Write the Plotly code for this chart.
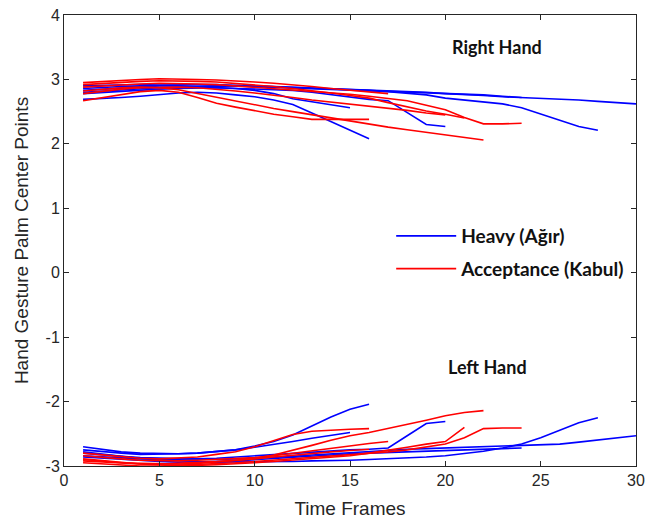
import plotly.graph_objects as go

# ---------------- data ----------------
# Right hand, "Heavy (Ağır)" (blue)
heavy_right = [
    [2.80, 2.82, 2.84, 2.86, 2.87, 2.88, 2.89, 2.90, 2.90, 2.90, 2.89, 2.88, 2.87, 2.86, 2.85,
     2.84, 2.83, 2.82, 2.80, 2.78, 2.77, 2.75, 2.73, 2.72, 2.71, 2.70, 2.68, 2.66, 2.64, 2.62],
    [2.86, 2.88, 2.89, 2.90, 2.91, 2.92, 2.92, 2.92, 2.91, 2.90, 2.89, 2.88, 2.87, 2.86, 2.85,
     2.83, 2.81, 2.79, 2.76, 2.71, 2.68, 2.65, 2.62, 2.56, 2.46, 2.37, 2.27, 2.21],
    [2.78, 2.80, 2.82, 2.84, 2.85, 2.86, 2.87, 2.87, 2.86, 2.85, 2.84, 2.83, 2.80, 2.76, 2.72,
     2.69, 2.67, 2.48, 2.30, 2.27],
    [2.69, 2.70, 2.72, 2.74, 2.77, 2.79, 2.80, 2.79, 2.76, 2.73, 2.68, 2.61, 2.48, 2.35, 2.21, 2.08],
    [2.83, 2.85, 2.87, 2.89, 2.90, 2.90, 2.89, 2.88, 2.86, 2.83, 2.78, 2.70, 2.65, 2.60, 2.56],
    [2.90, 2.91, 2.92, 2.93, 2.93, 2.93, 2.92, 2.91, 2.90, 2.89, 2.88, 2.87, 2.86, 2.85, 2.84,
     2.83, 2.82, 2.81, 2.80, 2.79, 2.77, 2.76, 2.74, 2.72],
]
# Right hand, "Acceptance (Kabul)" (red)
acceptance_right = [
    [2.95, 2.97, 2.99, 3.00, 3.01, 3.01, 3.00, 2.99, 2.98, 2.96, 2.94, 2.92, 2.89, 2.86, 2.83, 2.80, 2.78],
    [2.92, 2.94, 2.96, 2.97, 2.98, 2.98, 2.97, 2.96, 2.94, 2.92, 2.89, 2.86, 2.83, 2.79, 2.75,
     2.71, 2.64, 2.57, 2.51, 2.46, 2.40],
    [2.88, 2.90, 2.92, 2.93, 2.94, 2.94, 2.93, 2.92, 2.90, 2.88, 2.86, 2.84, 2.82, 2.80, 2.77,
     2.74, 2.71, 2.67, 2.60, 2.53, 2.41, 2.31, 2.31, 2.32],
    [2.82, 2.85, 2.87, 2.88, 2.87, 2.84, 2.78, 2.72, 2.66, 2.60, 2.55, 2.50, 2.45, 2.40, 2.35,
     2.30, 2.26, 2.22, 2.18, 2.13, 2.09, 2.06],
    [2.67, 2.72, 2.77, 2.81, 2.83, 2.80, 2.72, 2.63, 2.57, 2.51, 2.46, 2.42, 2.38, 2.38, 2.38, 2.38],
    [2.78, 2.82, 2.85, 2.87, 2.88, 2.88, 2.87, 2.85, 2.82, 2.79, 2.76, 2.72, 2.68, 2.65, 2.62,
     2.59, 2.56, 2.52, 2.48, 2.45],
]
# Left hand, "Heavy (Ağır)" (blue)
heavy_left = [
    [-2.70, -2.74, -2.78, -2.80, -2.81, -2.81, -2.80, -2.78, -2.75, -2.69, -2.62, -2.52, -2.38,
     -2.24, -2.12, -2.04],
    [-2.78, -2.82, -2.85, -2.88, -2.90, -2.92, -2.93, -2.94, -2.94, -2.94, -2.93, -2.93, -2.92,
     -2.92, -2.91, -2.90, -2.89, -2.87, -2.86, -2.84, -2.81, -2.77, -2.72, -2.66, -2.56, -2.45,
     -2.33, -2.25],
    [-2.80, -2.83, -2.85, -2.87, -2.88, -2.89, -2.90, -2.90, -2.89, -2.88, -2.87, -2.85, -2.83,
     -2.81, -2.79, -2.77, -2.75, -2.74, -2.73, -2.72, -2.71, -2.70, -2.69, -2.69, -2.68, -2.66,
     -2.63, -2.60, -2.57, -2.53],
    [-2.84, -2.86, -2.88, -2.89, -2.90, -2.90, -2.89, -2.88, -2.86, -2.84, -2.82, -2.80, -2.78,
     -2.77, -2.75, -2.74, -2.72, -2.53, -2.34, -2.31],
    [-2.75, -2.78, -2.80, -2.82, -2.82, -2.81, -2.80, -2.78, -2.75, -2.71, -2.67, -2.62, -2.57,
     -2.52, -2.48],
    [-2.86, -2.88, -2.90, -2.92, -2.93, -2.94, -2.94, -2.93, -2.92, -2.90, -2.88, -2.86, -2.84,
     -2.82, -2.81, -2.80, -2.79, -2.78, -2.77, -2.76, -2.75, -2.74, -2.73, -2.72],
]
# Left hand, "Acceptance (Kabul)" (red)
acceptance_left = [
    [-2.80, -2.83, -2.86, -2.88, -2.89, -2.88, -2.86, -2.82, -2.78, -2.70, -2.60, -2.51, -2.46,
     -2.44, -2.43, -2.42],
    [-2.92, -2.94, -2.96, -2.97, -2.97, -2.96, -2.95, -2.93, -2.91, -2.88, -2.83, -2.76, -2.68,
     -2.60, -2.53, -2.48, -2.42, -2.35, -2.29, -2.22, -2.17, -2.14],
    [-2.84, -2.87, -2.89, -2.91, -2.92, -2.92, -2.91, -2.90, -2.89, -2.87, -2.84, -2.80, -2.77,
     -2.73, -2.69, -2.65, -2.62],
    [-2.89, -2.92, -2.95, -2.97, -2.98, -2.99, -2.99, -2.98, -2.97, -2.95, -2.93, -2.91, -2.89,
     -2.87, -2.84, -2.80, -2.76, -2.71, -2.66, -2.62, -2.40],
    [-2.95, -2.97, -2.99, -3.00, -3.00, -2.99, -2.98, -2.97, -2.95, -2.93, -2.91, -2.89, -2.87,
     -2.85, -2.83, -2.80, -2.78, -2.75, -2.71, -2.66, -2.56, -2.42, -2.41, -2.41],
    [-2.90, -2.93, -2.95, -2.96, -2.97, -2.97, -2.96, -2.94, -2.92, -2.89, -2.86, -2.83, -2.80,
     -2.78, -2.76, -2.74],
]

series_names = ["Heavy (Ağır)", "Acceptance (Kabul)"]
x_ticks = [0, 5, 10, 15, 20, 25, 30]
x_tick_labels = ["0", "5", "10", "15", "20", "25", "30"]
y_ticks = [-3, -2, -1, 0, 1, 2, 3, 4]
y_tick_labels = ["-3", "-2", "-1", "0", "1", "2", "3", "4"]
hand_labels = ["Right Hand", "Left Hand"]

BLUE = "#0000FF"
RED = "#FF0000"

fig = go.Figure()

def add_group(curves, name, color, group, first_flag):
    for i, ys in enumerate(curves):
        fig.add_trace(go.Scatter(
            x=list(range(1, len(ys) + 1)), y=ys, mode="lines",
            line=dict(color=color, width=1.6),
            name=name, legendgroup=group,
            showlegend=(first_flag and i == 0),
            hoverinfo="skip",
        ))

add_group(heavy_right, series_names[0], BLUE, "heavy", True)
add_group(acceptance_right, series_names[1], RED, "accept", True)
add_group(heavy_left, series_names[0], BLUE, "heavy", False)
add_group(acceptance_left, series_names[1], RED, "accept", False)

axis_common = dict(
    showline=True, linecolor="#262626", linewidth=1, mirror="ticks",
    ticks="inside", ticklen=5, tickcolor="#262626",
    showgrid=False, zeroline=False, automargin=False,
    ticklabeloverflow="allow",
    tickfont=dict(family="Liberation Sans, Arial", size=16, color="#262626"),
    title_font=dict(family="Liberation Sans, Arial", size=19, color="#262626"),
)

fig.update_layout(
    width=656, height=514,
    margin=dict(l=56, r=28, t=7, b=56),
    plot_bgcolor="white", paper_bgcolor="white",
    xaxis=dict(range=[0, 30], tickvals=x_ticks, ticktext=x_tick_labels,
               title=dict(text="Time Frames", standoff=13), **axis_common),
    yaxis=dict(range=[-3, 4], tickvals=y_ticks, ticktext=y_tick_labels,
               title=dict(text="Hand Gesture Palm Center Points", standoff=11), **axis_common),
    legend=dict(x=0.572, y=0.552, xanchor="left", yanchor="top",
                bgcolor="rgba(0,0,0,0)", borderwidth=0,
                font=dict(family="Lato", size=19, color="#111111", weight="bold"),
                itemwidth=60, tracegroupgap=5),
    annotations=[
        dict(x=22.7, y=3.51, xref="x", yref="y", text="<b>" + hand_labels[0] + "</b>",
             showarrow=False, font=dict(family="Lato", size=18, color="#111111")),
        dict(x=22.2, y=-1.46, xref="x", yref="y", text="<b>" + hand_labels[1] + "</b>",
             showarrow=False, font=dict(family="Lato", size=18, color="#111111")),
    ],
)

fig.write_html("out.html")
